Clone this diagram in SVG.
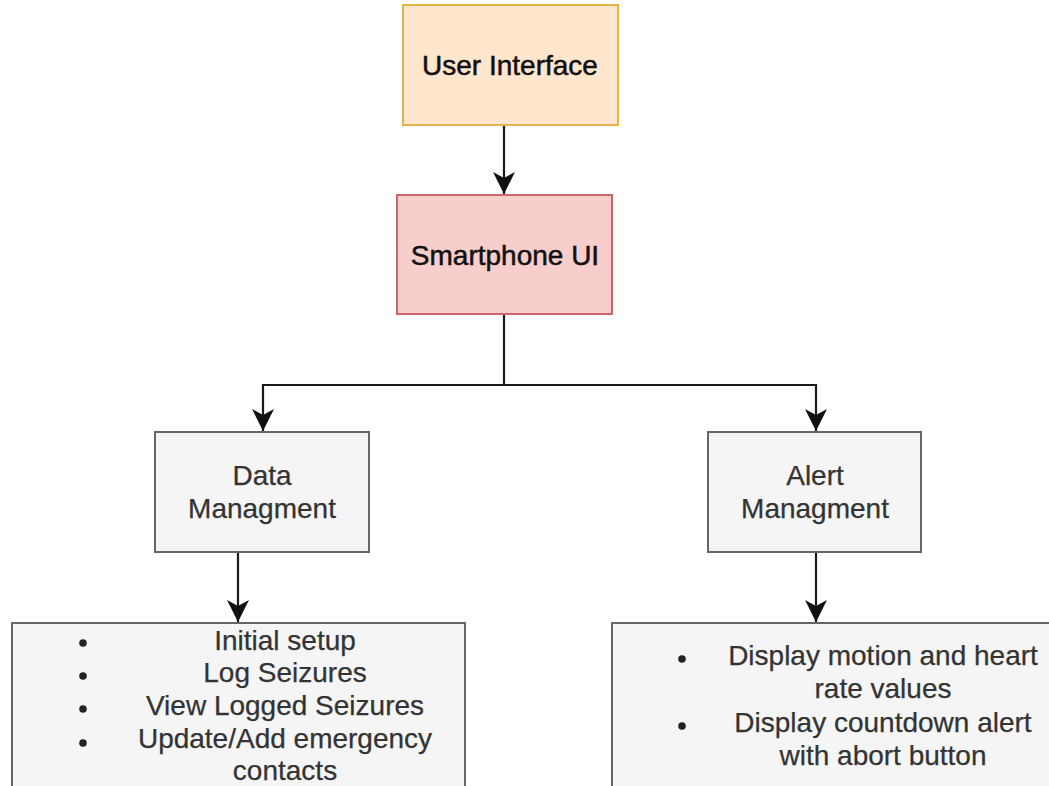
<svg xmlns="http://www.w3.org/2000/svg" width="1049" height="786" viewBox="0 0 1049 786">
<style>
  text { font-family: "Liberation Sans", Arial, Helvetica, sans-serif; font-size: 28px; text-anchor: middle; }
  .dark { fill: #111111; stroke: #111111; stroke-width: 0.5; }
  .gray { fill: #333333; stroke: #333333; stroke-width: 0.25; }
  .gbox { fill: #f5f5f5; stroke: #666666; stroke-width: 2; }
  .conn { fill: none; stroke: #1a1a1a; stroke-width: 2.2; }
  .bullet { fill: #222222; }
</style>
<defs>
  <marker id="arr" markerUnits="userSpaceOnUse" viewBox="0 0 22 22" markerWidth="22" markerHeight="22" refX="22" refY="11" orient="auto">
    <path d="M0,0 L22,11 L0,22 L6,11 z" fill="#111111"/>
  </marker>
</defs>
<rect width="1049" height="786" fill="#ffffff"/>

<g id="connectors">
  <path class="conn" d="M504,125 L504,194" marker-end="url(#arr)"/>
  <path class="conn" d="M504,313 L504,385 L263,385 L263,431" marker-end="url(#arr)"/>
  <path class="conn" d="M504,385 L816,385 L816,431" marker-end="url(#arr)"/>
  <path class="conn" d="M238,552 L238,622" marker-end="url(#arr)"/>
  <path class="conn" d="M816,552 L816,622" marker-end="url(#arr)"/>
</g>

<g id="user-interface">
  <rect x="403" y="5" width="215" height="120" fill="#ffe6cc" stroke="#e3b447" stroke-width="2"/>
  <text class="dark" x="510" y="75">User Interface</text>
</g>

<g id="smartphone-ui">
  <rect x="397" y="195" width="215" height="119" fill="#f8cecc" stroke="#c9676a" stroke-width="2"/>
  <text class="dark" x="505" y="265">Smartphone UI</text>
</g>

<g id="data-managment">
  <rect class="gbox" x="155" y="432" width="214" height="120"/>
  <text class="gray" x="262" y="485">Data</text>
  <text class="gray" x="262" y="518">Managment</text>
</g>

<g id="alert-managment">
  <rect class="gbox" x="708" y="432" width="213" height="120"/>
  <text class="gray" x="815" y="485">Alert</text>
  <text class="gray" x="815" y="518">Managment</text>
</g>

<g id="data-list">
  <rect class="gbox" x="12" y="623" width="453" height="180"/>
  <circle class="bullet" cx="83" cy="643" r="3.8"/>
  <circle class="bullet" cx="83" cy="676" r="3.8"/>
  <circle class="bullet" cx="83" cy="709" r="3.8"/>
  <circle class="bullet" cx="83" cy="743" r="3.8"/>
  <text class="gray" x="285" y="650">Initial setup</text>
  <text class="gray" x="285" y="682">Log Seizures</text>
  <text class="gray" x="285" y="715">View Logged Seizures</text>
  <text class="gray" x="285" y="748">Update/Add emergency</text>
  <text class="gray" x="285" y="780">contacts</text>
</g>

<g id="alert-list">
  <rect class="gbox" x="612" y="623" width="460" height="180"/>
  <circle class="bullet" cx="682" cy="659" r="3.8"/>
  <circle class="bullet" cx="682" cy="726" r="3.8"/>
  <text class="gray" x="883" y="665">Display motion and heart</text>
  <text class="gray" x="883" y="698">rate values</text>
  <text class="gray" x="883" y="732">Display countdown alert</text>
  <text class="gray" x="883" y="765">with abort button</text>
</g>
</svg>
